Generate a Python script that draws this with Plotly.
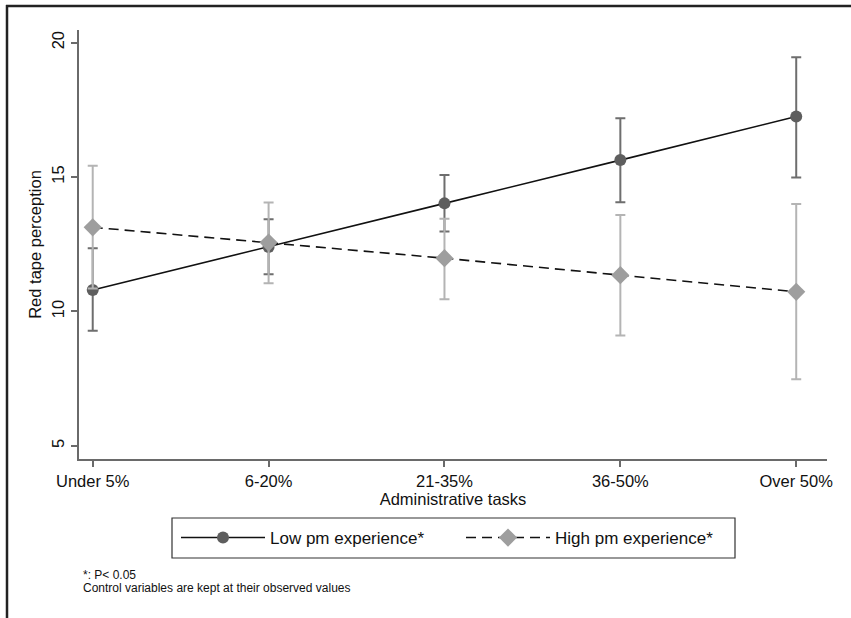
import plotly.graph_objects as go

categories = ["Under 5%", "6-20%", "21-35%", "36-50%", "Over 50%"]
low_mean = [10.80, 12.40, 14.02, 15.63, 17.25]
low_lo = [9.28, 11.38, 12.97, 14.06, 14.98]
low_hi = [12.35, 13.43, 15.08, 17.19, 19.46]
high_mean = [13.13, 12.56, 11.98, 11.35, 10.73]
high_lo = [10.85, 11.05, 10.45, 9.10, 7.48]
high_hi = [15.42, 14.05, 13.45, 13.59, 14.00]
y_ticks = [5, 10, 15, 20]

xpos = list(range(len(categories)))

W, H = 851, 618
L, R, T, B = 79, 24, 30, 159
pw, ph = W - L - R, H - T - B

def px2x(px):
    return (px - L) / pw

def px2y(py):
    return (H - B - py) / ph

fig = go.Figure()

fig.add_trace(go.Scatter(
    x=xpos, y=low_mean, mode="lines+markers", name="Low pm experience*",
    line=dict(color="#111111", width=1.6),
    marker=dict(symbol="circle", size=12, color="#5e5e5e"),
    error_y=dict(type="data", symmetric=False,
                 array=[h - m for h, m in zip(low_hi, low_mean)],
                 arrayminus=[m - l for m, l in zip(low_mean, low_lo)],
                 color="#6e6e6e", thickness=2, width=5),
))
fig.add_trace(go.Scatter(
    x=xpos, y=high_mean, mode="lines+markers", name="High pm experience*",
    line=dict(color="#111111", width=1.6, dash="10px,6px"),
    marker=dict(symbol="diamond", size=14, color="#9e9e9e"),
    error_y=dict(type="data", symmetric=False,
                 array=[h - m for h, m in zip(high_hi, high_mean)],
                 arrayminus=[m - l for m, l in zip(high_mean, high_lo)],
                 color="#b4b4b4", thickness=2, width=5),
))

font = "Liberation Sans, Arial, Helvetica, sans-serif"
fs = 16.5

fig.update_layout(
    width=W, height=H,
    margin=dict(l=L, r=R, t=T, b=B, autoexpand=False),
    paper_bgcolor="white", plot_bgcolor="white",
    font=dict(family=font, size=fs, color="#111111"),
    showlegend=True,
    legend=dict(
        orientation="h", x=px2x(176), xanchor="left", y=px2y(538), yanchor="middle",
        borderwidth=0, bgcolor="rgba(0,0,0,0)",
        font=dict(size=17), itemwidth=84, entrywidth=186,
    ),
    xaxis=dict(
        range=[-0.078, 4.175], tickvals=xpos, ticktext=categories,
        showgrid=False, zeroline=False, showline=True, linecolor="#6a6a6a", linewidth=2,
        ticks="outside", ticklen=6, tickcolor="#6a6a6a", tickwidth=1.5,
        tickfont=dict(size=fs),
        title=dict(text="Administrative tasks", font=dict(size=fs), standoff=1),
    ),
    yaxis=dict(
        range=[4.51, 20.47], tickvals=y_ticks, tickangle=-90,
        showgrid=False, zeroline=False, showline=True, linecolor="#6a6a6a", linewidth=2,
        ticks="outside", ticklen=6, tickcolor="#6a6a6a", tickwidth=1.5,
        tickfont=dict(size=fs),
        title=dict(text="Red tape perception", font=dict(size=fs), standoff=4),
    ),
    shapes=[
        dict(type="line", xref="paper", yref="paper",
             x0=px2x(7), x1=px2x(7), y0=px2y(5), y1=px2y(H + 5),
             line=dict(color="#222222", width=2.5)),
        dict(type="line", xref="paper", yref="paper",
             x0=px2x(6), x1=px2x(W + 5), y0=px2y(6), y1=px2y(6),
             line=dict(color="#222222", width=2.5)),
        dict(type="rect", xref="paper", yref="paper",
             x0=px2x(172), x1=px2x(735), y0=px2y(518), y1=px2y(558),
             line=dict(color="#333333", width=1.2), fillcolor="rgba(0,0,0,0)"),
    ],
    annotations=[
        dict(text="*: P< 0.05", xref="paper", yref="paper", x=px2x(81), y=px2y(575),
             xanchor="left", yanchor="middle", showarrow=False, font=dict(size=12)),
        dict(text="Control variables are kept at their observed values", xref="paper", yref="paper",
             x=px2x(81), y=px2y(588), xanchor="left", yanchor="middle", showarrow=False,
             font=dict(size=12)),
    ],
)

fig.write_html("out.html", config={"displayModeBar": False},
               post_script="document.body.style.margin='0px';")
